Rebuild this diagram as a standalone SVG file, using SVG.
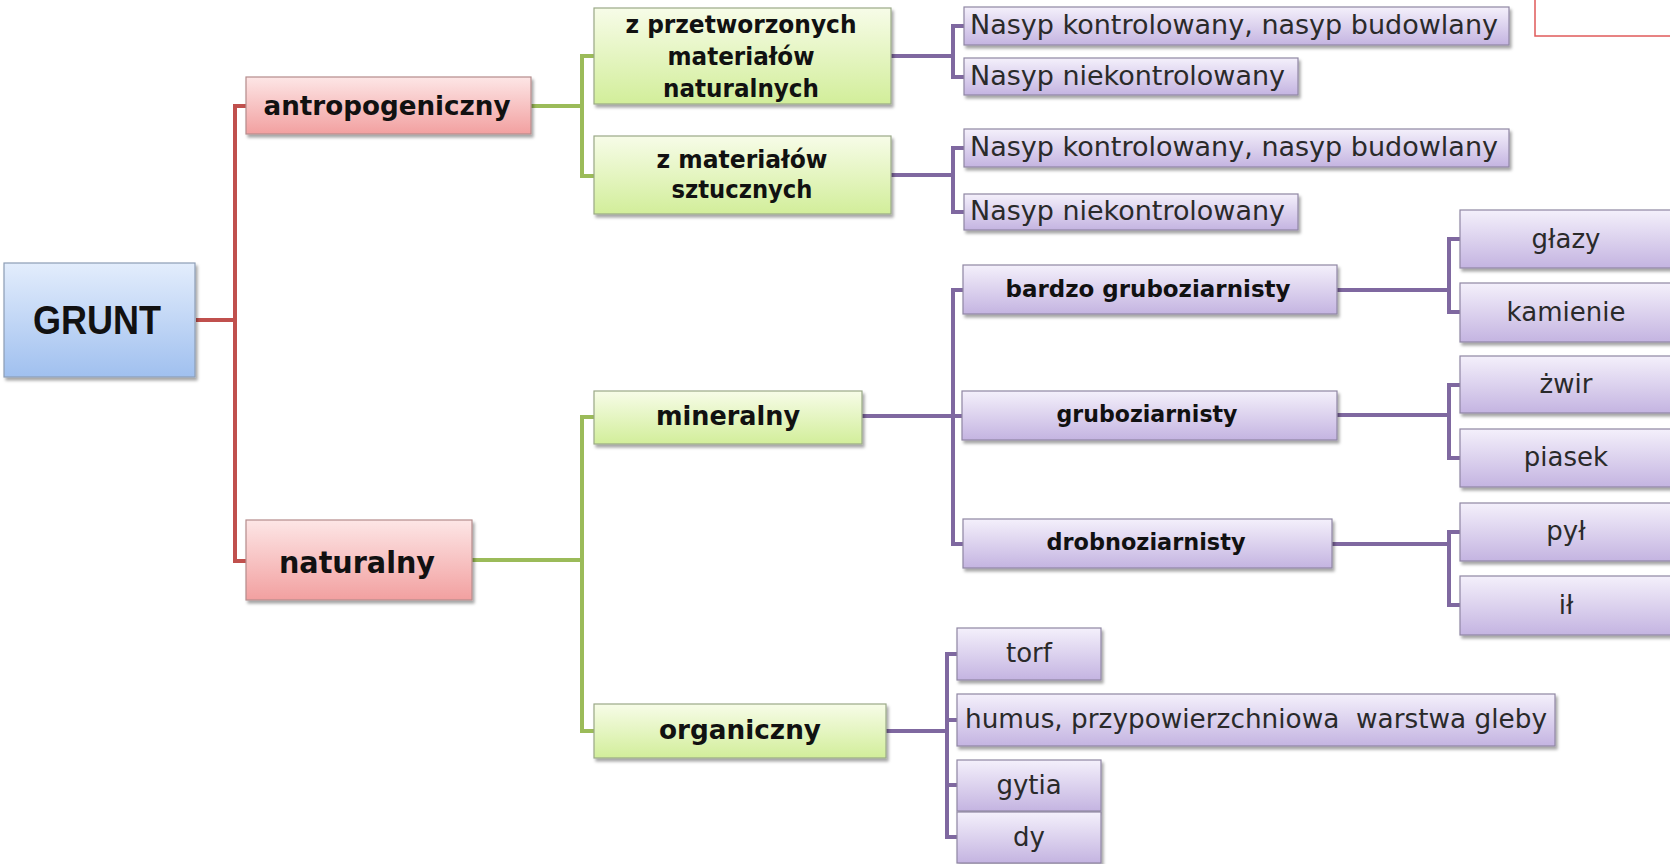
<svg xmlns="http://www.w3.org/2000/svg" width="1670" height="864" viewBox="0 0 1670 864">
<defs>
<linearGradient id="gBlue" x1="0" y1="0" x2="0" y2="1"><stop offset="0" stop-color="#e3edfc"/><stop offset="1" stop-color="#a0c0ef"/></linearGradient>
<linearGradient id="gRed" x1="0" y1="0" x2="0" y2="1"><stop offset="0" stop-color="#fde6e6"/><stop offset="1" stop-color="#f2a0a0"/></linearGradient>
<linearGradient id="gGreen" x1="0" y1="0" x2="0" y2="1"><stop offset="0" stop-color="#f7fce8"/><stop offset="1" stop-color="#d2ee9a"/></linearGradient>
<linearGradient id="gPurple" x1="0" y1="0" x2="0" y2="1"><stop offset="0" stop-color="#f4f0fb"/><stop offset="1" stop-color="#c4b4e1"/></linearGradient>
<filter id="sh" x="-5%" y="-10%" width="115%" height="140%"><feDropShadow dx="2" dy="3" stdDeviation="1.8" flood-color="#000" flood-opacity="0.35"/></filter>
</defs>
<style>
.n rect{stroke-width:1.2;filter:url(#sh)}
.blue rect{fill:url(#gBlue);stroke:#8d9db5}
.red rect{fill:url(#gRed);stroke:#b58c8c}
.green rect{fill:url(#gGreen);stroke:#9aa887}
.purple rect{fill:url(#gPurple);stroke:#8f86a3}
text{font-family:"DejaVu Sans","Liberation Sans",sans-serif;fill:#1e1e1e}
.b{font-weight:bold;text-anchor:middle;fill:#111}
.r{font-size:26px;fill:#2a2a2a}
.c{text-anchor:middle}
.conn path{fill:none;stroke-width:4;stroke-linejoin:miter;stroke-linecap:butt}
.cr path{stroke:#c0504d}
.cg path{stroke:#9bbb59}
.cp path{stroke:#7f68a0}
</style>
<rect width="1670" height="864" fill="#ffffff"/>
<rect x="1535" y="-5" width="200" height="41" fill="none" stroke="#e05a5a" stroke-width="1.5"/>

<g id="connectors" class="conn">
<g class="cr">
<path d="M196,320 H235"/>
<path d="M247,106 H235 V561 H246"/>
</g>
<g class="cg">
<path d="M531,106 H582"/>
<path d="M594,56 H582 V176 H594"/>
<path d="M472,560 H582"/>
<path d="M594,417 H582 V731 H594"/>
</g>
<g class="cp">
<path d="M891,56 H953"/>
<path d="M964,26 H953 V77 H964"/>
<path d="M891,175 H953"/>
<path d="M964,148 H953 V212 H964"/>
<path d="M862,416 H962"/>
<path d="M963,290 H953 V544 H963"/>
<path d="M1337,290 H1449"/>
<path d="M1460,239 H1449 V312 H1460"/>
<path d="M1337,415 H1449"/>
<path d="M1460,385 H1449 V458 H1460"/>
<path d="M1332,544 H1449"/>
<path d="M1460,532 H1449 V605 H1460"/>
<path d="M886,731 H947"/>
<path d="M957,654 H947 V837 H957"/>
<path d="M947,720 H957"/>
<path d="M947,785 H957"/>
</g>
</g>

<g id="grunt" class="n blue"><rect x="4" y="263" width="191" height="114"/><text x="97" y="334" style="font-family:'Liberation Sans',sans-serif;font-weight:bold;font-size:40px;text-anchor:middle;fill:#111" textLength="128" lengthAdjust="spacingAndGlyphs">GRUNT</text></g>

<g id="antropogeniczny" class="n red"><rect x="246" y="77" width="285" height="57"/><text class="b" x="387" y="115" font-size="26" textLength="247" lengthAdjust="spacingAndGlyphs">antropogeniczny</text></g>
<g id="naturalny" class="n red"><rect x="246" y="520" width="226" height="80"/><text class="b" x="357" y="573" font-size="30" textLength="156" lengthAdjust="spacingAndGlyphs">naturalny</text></g>

<g id="z-przetworzonych" class="n green"><rect x="594" y="8" width="297" height="96"/>
<text class="b" x="741" y="33" font-size="24" textLength="231" lengthAdjust="spacingAndGlyphs">z przetworzonych</text>
<text class="b" x="741" y="65" font-size="24" textLength="147" lengthAdjust="spacingAndGlyphs">materiałów</text>
<text class="b" x="741" y="97" font-size="24" textLength="156" lengthAdjust="spacingAndGlyphs">naturalnych</text></g>
<g id="z-materialow-sztucznych" class="n green"><rect x="594" y="136" width="297" height="78"/>
<text class="b" x="742" y="168" font-size="24" textLength="171" lengthAdjust="spacingAndGlyphs">z materiałów</text>
<text class="b" x="742" y="198" font-size="24" textLength="141" lengthAdjust="spacingAndGlyphs">sztucznych</text></g>
<g id="mineralny" class="n green"><rect x="594" y="391" width="268" height="53"/><text class="b" x="728" y="425" font-size="26" textLength="144" lengthAdjust="spacingAndGlyphs">mineralny</text></g>
<g id="organiczny" class="n green"><rect x="594" y="704" width="292" height="54"/><text class="b" x="740" y="739" font-size="26" textLength="162" lengthAdjust="spacingAndGlyphs">organiczny</text></g>

<g id="nasyp-kontrolowany-1" class="n purple"><rect x="964" y="7" width="545" height="38"/><text class="r" x="970" y="34" textLength="528" lengthAdjust="spacingAndGlyphs">Nasyp kontrolowany, nasyp budowlany</text></g>
<g id="nasyp-niekontrolowany-1" class="n purple"><rect x="964" y="58" width="334" height="37"/><text class="r" x="970" y="85" textLength="315" lengthAdjust="spacingAndGlyphs">Nasyp niekontrolowany</text></g>
<g id="nasyp-kontrolowany-2" class="n purple"><rect x="964" y="129" width="545" height="38"/><text class="r" x="970" y="156" textLength="528" lengthAdjust="spacingAndGlyphs">Nasyp kontrolowany, nasyp budowlany</text></g>
<g id="nasyp-niekontrolowany-2" class="n purple"><rect x="964" y="194" width="334" height="36"/><text class="r" x="970" y="220" textLength="315" lengthAdjust="spacingAndGlyphs">Nasyp niekontrolowany</text></g>

<g id="bardzo-gruboziarnisty" class="n purple"><rect x="963" y="265" width="374" height="49"/><text class="b" x="1148" y="297" font-size="23" textLength="285" lengthAdjust="spacingAndGlyphs">bardzo gruboziarnisty</text></g>
<g id="gruboziarnisty" class="n purple"><rect x="962" y="391" width="375" height="49"/><text class="b" x="1147" y="422" font-size="23" textLength="181" lengthAdjust="spacingAndGlyphs">gruboziarnisty</text></g>
<g id="drobnoziarnisty" class="n purple"><rect x="963" y="519" width="369" height="49"/><text class="b" x="1146" y="550" font-size="23" textLength="199" lengthAdjust="spacingAndGlyphs">drobnoziarnisty</text></g>

<g id="glazy" class="n purple"><rect x="1460" y="210" width="214" height="58"/><text class="r c" x="1566" y="248">głazy</text></g>
<g id="kamienie" class="n purple"><rect x="1460" y="283" width="214" height="59"/><text class="r c" x="1566" y="321">kamienie</text></g>
<g id="zwir" class="n purple"><rect x="1460" y="356" width="214" height="57"/><text class="r c" x="1566" y="393">żwir</text></g>
<g id="piasek" class="n purple"><rect x="1460" y="429" width="214" height="58"/><text class="r c" x="1566" y="466">piasek</text></g>
<g id="pyl" class="n purple"><rect x="1460" y="503" width="214" height="58"/><text class="r c" x="1566" y="540">pył</text></g>
<g id="il" class="n purple"><rect x="1460" y="576" width="214" height="59"/><text class="r c" x="1566" y="614">ił</text></g>

<g id="torf" class="n purple"><rect x="957" y="628" width="144" height="52"/><text class="r c" x="1029" y="662">torf</text></g>
<g id="humus" class="n purple"><rect x="957" y="694" width="598" height="52"/><text class="r" x="965" y="728" xml:space="preserve" style="white-space:pre" textLength="582" lengthAdjust="spacingAndGlyphs">humus, przypowierzchniowa  warstwa gleby</text></g>
<g id="gytia" class="n purple"><rect x="957" y="760" width="144" height="51"/><text class="r c" x="1029" y="794">gytia</text></g>
<g id="dy" class="n purple"><rect x="957" y="812" width="144" height="51"/><text class="r c" x="1029" y="846">dy</text></g>
</svg>
